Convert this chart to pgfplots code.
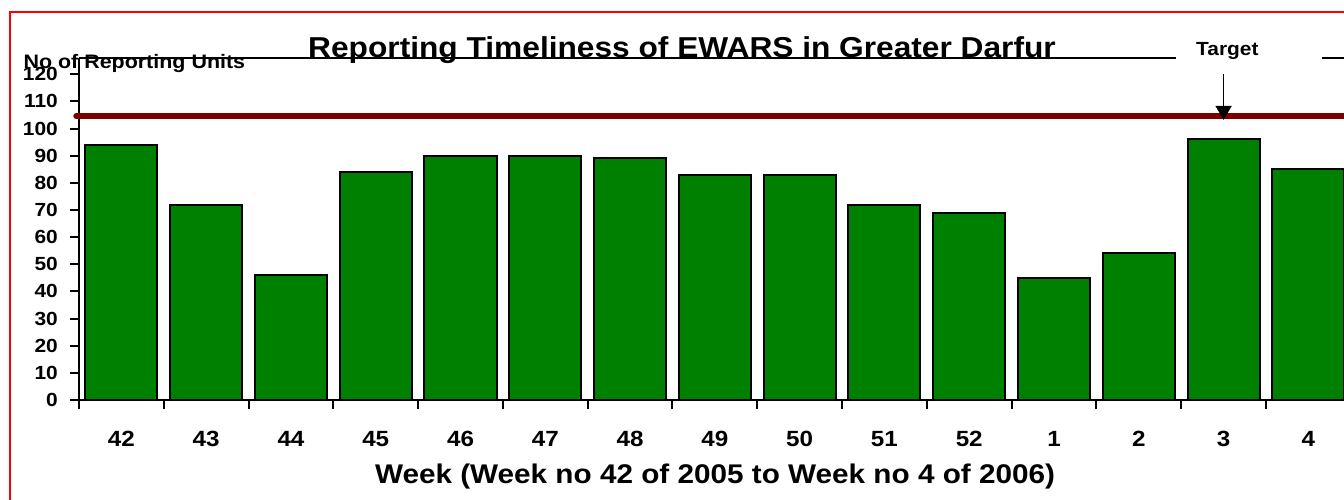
\documentclass[border=0pt]{standalone}
\usepackage{fontspec}
\setmainfont{Liberation Sans}[FakeStretch=1.1]
\usepackage{pgfplots}
\pgfplotsset{compat=1.18}
\usetikzlibrary{arrows.meta}
\definecolor{bargreen}{RGB}{0,128,0}
\definecolor{targetred}{RGB}{128,0,0}
\definecolor{frame}{RGB}{255,0,0}

\begin{document}
\begin{tikzpicture}[x=1pt,y=1pt]
\useasboundingbox (0,0) rectangle (1344,499);
\clip (0,0) rectangle (1344,499);
\draw[frame, line width=1.6pt] (10,486.7) rectangle (1400,-50);
\begin{axis}[
    at={(79pt,99pt)}, anchor=south west,
    scale only axis,
    width=1265pt, height=342pt,
    xmin=-0.5, xmax=14.42,
    ymin=0, ymax=126,
    clip=false,
    axis x line*=bottom, axis y line*=left,
    axis line style={-, line width=2pt, black},
    xtick={0,...,14},
    xticklabels={42,43,44,45,46,47,48,49,50,51,52,1,2,3,4},
    major x tick style={draw=none},
    minor xtick={-0.5,0.5,...,13.5},
    minor tick length=9pt,
    ytick={0,10,...,120},
    major tick length=9pt,
    tick align=outside,
    tick style={line width=2pt, black},
    /pgf/number format/assume math mode=true,
    xticklabel style={font=\fontsize{22}{22}\selectfont\bfseries, anchor=base, inner sep=0pt, yshift=-37pt},
    yticklabel style={font=\fontsize{19}{19}\selectfont\bfseries, anchor=east, inner sep=0pt, xshift=-12pt},
    every axis title/.style={at={(axis description cs:0.4767,1)}, anchor=base, yshift=0.4pt,
        font=\fontsize{28.8}{30}\selectfont\bfseries},
    title={Reporting Timeliness of EWARS in Greater Darfur},
    every axis x label/.style={at={(axis description cs:0.5028,0)}, anchor=base, yshift=-83.3pt,
        font=\fontsize{27}{28}\selectfont\bfseries},
    xlabel={Week (Week no 42 of 2005 to Week no 4 of 2006)},
    every axis y label/.style={at={(axis description cs:0,1)}, anchor=base west, xshift=-59pt, yshift=-10.6pt,
        font=\fontsize{19.5}{20}\selectfont\bfseries},
    ylabel={No of Reporting Units},
]
\addplot[ybar, bar width=0.85, fill=bargreen, draw=black, line width=2pt]
    coordinates {(0,94) (1,72) (2,46) (3,84) (4,90) (5,90) (6,89) (7,83)
                 (8,83) (9,72) (10,69) (11,45) (12,54) (13,96) (14,85)};
\addplot[targetred, line width=5.5pt, line cap=round, mark=none]
    coordinates {(-0.535,104.6) (15,104.6)};
\draw[black, line width=2pt] (rel axis cs:0,1) -- (rel axis cs:0.8672,1);
\draw[black, line width=2pt] (rel axis cs:0.9824,1) -- (rel axis cs:1.05,1);
\node[anchor=base west, inner sep=0pt, font=\fontsize{19}{19}\selectfont\bfseries]
    at (rel axis cs:0.883,1) [yshift=2.7pt] {Target};
\draw[black, line width=1.8pt, -{Triangle[width=16pt,length=14pt]}]
    (axis cs:13,120.1) -- (axis cs:13,103.2);
\end{axis}
\end{tikzpicture}
\end{document}
